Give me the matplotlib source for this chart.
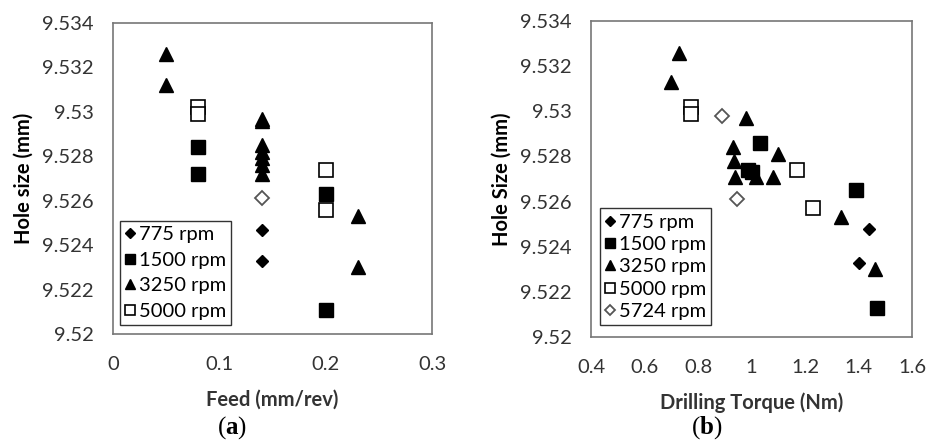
import matplotlib
matplotlib.use("Agg")
import matplotlib.pyplot as plt
from matplotlib.ticker import FuncFormatter

plt.rcParams['font.family'] = ['Lato', 'DejaVu Sans']
plt.rcParams['mathtext.fontset'] = 'custom'
plt.rcParams['mathtext.rm'] = 'Liberation Serif'
plt.rcParams['mathtext.bf'] = 'Liberation Serif:bold'

# (a) hole size vs feed
a775_x = [0.14, 0.14]
a775_y = [9.5247, 9.5233]
a1500_x = [0.08, 0.08, 0.20, 0.20]
a1500_y = [9.5284, 9.5272, 9.5263, 9.5211]
a3250_x = [0.05, 0.05, 0.14, 0.14, 0.14, 0.14, 0.14, 0.14, 0.14, 0.23, 0.23]
a3250_y = [9.5326, 9.5312, 9.5297, 9.5296, 9.5285, 9.5282, 9.5279, 9.5276, 9.5272, 9.5253, 9.5230]
a5000_x = [0.08, 0.08, 0.20, 0.20]
a5000_y = [9.5302, 9.5299, 9.5274, 9.5256]
a5724_x = [0.14]
a5724_y = [9.5261]

# (b) hole size vs drilling torque
b775_x = [1.44, 1.40]
b775_y = [9.5248, 9.5233]
b1500_x = [1.03, 0.985, 1.00, 1.39, 1.47]
b1500_y = [9.5286, 9.5274, 9.5273, 9.5265, 9.5213]
b3250_x = [0.73, 0.70, 0.98, 1.10, 0.93, 0.935, 0.94, 1.015, 1.08, 1.335, 1.46]
b3250_y = [9.5326, 9.5313, 9.5297, 9.5281, 9.5284, 9.5278, 9.5271, 9.5271, 9.5271, 9.5253, 9.5230]
b5000_x = [0.775, 0.775, 1.17, 1.23]
b5000_y = [9.5302, 9.5299, 9.5274, 9.5257]
b5724_x = [0.89, 0.945]
b5724_y = [9.5298, 9.5261]

yticks = [9.52, 9.522, 9.524, 9.526, 9.528, 9.53, 9.532, 9.534]


def fmt(v, pos):
    s = "%.3f" % v
    s = s.rstrip("0").rstrip(".")
    return s


def draw_series(ax, series):
    for x, y, style, label in series:
        ax.plot(x, y, linestyle="none", label=label, **style)


style_775 = dict(marker="D", markersize=6.5, color="black")
style_1500 = dict(marker="s", markersize=9.5, color="black")
style_3250 = dict(marker="^", markersize=9.5, color="black")
style_5000 = dict(marker="s", markersize=9.5, markerfacecolor="white", markeredgecolor="black", markeredgewidth=1.2)
style_5724 = dict(marker="D", markersize=7, markerfacecolor="white", markeredgecolor="#555555", markeredgewidth=1.3)

fig = plt.figure(figsize=(9.28, 4.45), dpi=100)
ax1 = fig.add_axes([0.1218, 0.2494, 0.3438, 0.699])
ax2 = fig.add_axes([0.6369, 0.2427, 0.3459, 0.710])

draw_series(ax1, [
    (a775_x, a775_y, style_775, "775 rpm"),
    (a1500_x, a1500_y, style_1500, "1500 rpm"),
    (a3250_x, a3250_y, style_3250, "3250 rpm"),
    (a5000_x, a5000_y, style_5000, "5000 rpm"),
])
ax1.plot(a5724_x, a5724_y, linestyle="none", **style_5724)

draw_series(ax2, [
    (b775_x, b775_y, style_775, "775 rpm"),
    (b1500_x, b1500_y, style_1500, "1500 rpm"),
    (b3250_x, b3250_y, style_3250, "3250 rpm"),
    (b5000_x, b5000_y, style_5000, "5000 rpm"),
    (b5724_x, b5724_y, style_5724, "5724 rpm"),
])

ax1.set_xlim(0, 0.3)
ax1.set_xticks([0, 0.1, 0.2, 0.3])
ax2.set_xlim(0.4, 1.6)
ax2.set_xticks([0.4, 0.6, 0.8, 1.0, 1.2, 1.4, 1.6])

for ax, spacing in ((ax1, 0.42), (ax2, 0.26)):
    ax.set_ylim(9.52, 9.534)
    ax.set_yticks(yticks)
    ax.yaxis.set_major_formatter(FuncFormatter(fmt))
    ax.xaxis.set_major_formatter(FuncFormatter(fmt))
    ax.tick_params(length=0, labelsize=14.5, colors="#333333")
    ax.tick_params(axis="x", pad=16)
    ax.tick_params(axis="y", pad=14)
    for sp in ax.spines.values():
        sp.set_color("#777777")
        sp.set_linewidth(1.2)
    leg = ax.legend(loc="lower left", fontsize=14.5, frameon=True, fancybox=False,
                    edgecolor="black", handlelength=0.5, handletextpad=0.2,
                    borderpad=0.25, labelspacing=spacing, borderaxespad=0,
                    markerscale=0.75)
    leg.get_frame().set_linewidth(1.0)

ax1.get_legend().set_bbox_to_anchor((0.022, 0.029))
ax2.get_legend().set_bbox_to_anchor((0.028, 0.038))

ax1.set_xlabel("Feed (mm/rev)", fontsize=14.5, fontweight="bold", color="#333333", labelpad=12)
ax1.set_ylabel("Hole size (mm)", fontsize=14.5, fontweight="bold", labelpad=6)
ax2.set_xlabel("Drilling Torque (Nm)", fontsize=14.5, fontweight="bold", color="#333333", labelpad=12)
ax2.set_ylabel("Hole Size (mm)", fontsize=14.5, fontweight="bold", labelpad=6)

cap = dict(fontsize=18, ha="center", va="center", family=["Liberation Serif", "DejaVu Serif"])
fig.text(232 / 928, 0.04, r"($\mathbf{a}$)", **cap)
fig.text(707 / 928, 0.04, r"($\mathbf{b}$)", **cap)

fig.savefig("out.png", dpi=100)
